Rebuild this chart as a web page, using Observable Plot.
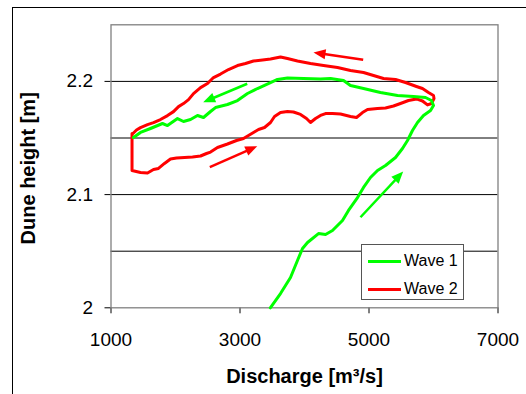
<!DOCTYPE html>
<html><head><meta charset="utf-8">
<script src="https://cdn.jsdelivr.net/npm/d3@7"></script>
<script src="https://cdn.jsdelivr.net/npm/@observablehq/plot@0.6"></script>
<style>
body{margin:0;background:#fff;}
#wrap{position:relative;width:526px;height:394px;overflow:hidden;font-family:Arial,"Liberation Sans",sans-serif;}
#outer{position:absolute;left:12px;top:7px;width:600px;height:500px;border-left:1px solid #000;border-top:1px solid #000;}
#chart{position:absolute;left:0;top:0;}
#legend{position:absolute;left:361px;top:244px;width:101px;height:54px;border:1px solid #555;background:#fff;font-size:16px;color:#000;}
.row{position:absolute;left:0;height:20px;width:100px;}
.sw{position:absolute;left:6px;top:9px;width:33px;height:3px;}
.lab{position:absolute;left:42px;top:0;line-height:20px;white-space:nowrap;}
</style>
</head><body>
<div id="wrap"><div id="outer"></div><div id="chart"></div><div id="legend"></div></div>
<script>
// ---- data (discharge m3/s, dune height m) ----
const wave1Q = [3470,3628,3783,3891,3969,4047,4217,4326,4434,4589,4682,4822,4915,5023,5132,5256,5411,5519,5597,5674,5752,5845,5954,6000,5969,5876,5690,5442,5178,4915,4713,4605,4403,4248,3985,3736,3581,3473,3271,3116,2961,2806,2620,2543,2434,2341,2233,2124,2031,1876,1798,1612,1457,1349];
const wave1H = [2.000,2.0126,2.0268,2.0418,2.0524,2.0577,2.0656,2.0647,2.0683,2.0771,2.0860,2.0974,2.1063,2.1151,2.1213,2.1257,2.1328,2.1407,2.1478,2.1566,2.1637,2.1699,2.1743,2.1787,2.1831,2.1858,2.1866,2.1875,2.1902,2.1937,2.1964,2.2008,2.2026,2.2021,2.2026,2.2030,2.2017,2.1990,2.1937,2.1893,2.1831,2.1796,2.1769,2.1734,2.1681,2.1699,2.1663,2.1646,2.1672,2.1610,2.1628,2.1584,2.1549,2.1504];
const wave2Q = [1326,1326,1326,1457,1566,1659,1736,1829,1922,2016,2140,2264,2388,2481,2543,2651,2806,2946,3054,3209,3287,3380,3473,3535,3628,3736,3829,3938,4031,4093,4171,4248,4326,4434,4558,4713,4806,4899,4977,5132,5256,5380,5488,5612,5736,5829,5907,5969,6008,6000,5922,5829,5736,5566,5411,5225,5070,4915,4713,4512,4295,4093,3891,3736,3628,3550,3473,3349,3209,3085,2961,2822,2698,2589,2496,2388,2279,2202,2124,2047,1969,1876,1767,1659,1566,1457,1395,1341];
const wave2H = [2.1540,2.1390,2.1213,2.1195,2.1191,2.1222,2.1231,2.1275,2.1314,2.1323,2.1328,2.1332,2.1341,2.1363,2.1376,2.1416,2.1447,2.1478,2.1496,2.1549,2.1575,2.1593,2.1637,2.1690,2.1725,2.1734,2.1730,2.1708,2.1672,2.1637,2.1672,2.1699,2.1716,2.1716,2.1712,2.1690,2.1681,2.1725,2.1752,2.1761,2.1765,2.1783,2.1805,2.1831,2.1845,2.1827,2.1792,2.1805,2.1849,2.1875,2.1902,2.1937,2.1955,2.1990,2.2017,2.2026,2.2052,2.2079,2.2096,2.2123,2.2140,2.2158,2.2180,2.2202,2.2216,2.2207,2.2198,2.2189,2.2180,2.2158,2.2140,2.2105,2.2065,2.2034,2.1981,2.1945,2.1892,2.1839,2.1804,2.1777,2.1733,2.1698,2.1663,2.1636,2.1618,2.1592,2.1571,2.1540];
// direction arrows (tail -> head)
const arrowQ1 = [4910,3112,2532,4868];
const arrowH1 = [2.2191,2.1979,2.1242,2.0800];
const arrowQ2 = [4140,2429,3267,5530];
const arrowH2 = [2.2255,2.1816,2.1428,2.1204];
const arrowSeries = ["Wave 2","Wave 1","Wave 2","Wave 1"];
const seriesNames = ["Wave 1","Wave 2"];
const seriesColors = ["#00ff00","#ff0000"];
const xTicks = [1000,3000,5000,7000];
const yTicks = [2,2.1,2.2];
const gridLevels = [2.05,2.1,2.15,2.2];
const xTitle = "Discharge [m³/s]";
const yTitle = "Dune height [m]";

const wave1 = wave1Q.map((q,i)=>({q, h: wave1H[i]}));
const wave2 = wave2Q.map((q,i)=>({q, h: wave2H[i]}));
const arrows = arrowQ1.map((q,i)=>({x1:q, y1:arrowH1[i], x2:arrowQ2[i], y2:arrowH2[i], c: seriesColors[seriesNames.indexOf(arrowSeries[i])]}));

// filled arrowhead symbol, tip at the origin pointing up
const headSymbol = {draw(ctx) { ctx.moveTo(0, 0); ctx.lineTo(-5, 12); ctx.lineTo(5, 12); ctx.closePath(); }};

function build(extra) {
  return Plot.plot({
    width: 526, height: 394,
    marginLeft: 110.5, marginRight: 28.5, marginTop: 24.3, marginBottom: 86.7,
    style: {fontFamily: "Arial, 'Liberation Sans', sans-serif", fontSize: "19px", background: "transparent", overflow: "visible", color: "#000"},
    x: {domain: [1000, 7000], ticks: xTicks, tickFormat: d3.format("d"), tickSize: 6, tickPadding: 19, label: null},
    y: {domain: [2, 2.25], ticks: yTicks, tickFormat: d => String(d), tickSize: 6, tickPadding: 12, label: null},
    marks: [
      Plot.ruleY(gridLevels, {stroke: "#000", strokeWidth: 1}),
      Plot.frame({stroke: "#808080", strokeWidth: 1.3}),
      Plot.line(wave2, {x: "q", y: "h", stroke: seriesColors[1], strokeWidth: 3}),
      Plot.line(wave1, {x: "q", y: "h", stroke: seriesColors[0], strokeWidth: 3}),
      Plot.text([xTitle], {frameAnchor: "bottom", lineAnchor: "middle", textAnchor: "middle", dy: 69, fontWeight: "bold", fontSize: 20}),
      Plot.text([yTitle], {frameAnchor: "left", textAnchor: "middle", lineAnchor: "middle", dx: -82.5, dy: 2, rotate: -90, fontWeight: "bold", fontSize: 20}),
      ...extra
    ]
  });
}

// first pass to obtain the scales, then arrows with filled heads
const first = build([]);
const sx = first.scale("x"), sy = first.scale("y");
const heads = arrows.map(a => {
  const px1 = sx.apply(a.x1), py1 = sy.apply(a.y1), px2 = sx.apply(a.x2), py2 = sy.apply(a.y2);
  const dx = px2 - px1, dy = py2 - py1, len = Math.hypot(dx, dy);
  const ex = px2 - dx / len * 9, ey = py2 - dy / len * 9;
  return {...a, sx2: sx.invert(ex), sy2: sy.invert(ey), angle: Math.atan2(dx, -dy) * 180 / Math.PI};
});
const chart = build([
  Plot.link(heads, {x1: "x1", y1: "y1", x2: "sx2", y2: "sy2", stroke: "c", strokeWidth: 2.5}),
  Plot.dot(heads, {x: "x2", y: "y2", symbol: headSymbol, rotate: "angle", fill: "c", stroke: "none", r: 5})
]);
document.getElementById("chart").appendChild(chart);

const leg = document.getElementById("legend");
seriesNames.forEach((name, i) => {
  const row = document.createElement("div");
  row.className = "row";
  row.style.top = (6 + i * 28) + "px";
  const sw = document.createElement("div");
  sw.className = "sw"; sw.style.background = seriesColors[i];
  const lab = document.createElement("div");
  lab.className = "lab"; lab.textContent = name;
  row.appendChild(sw); row.appendChild(lab);
  leg.appendChild(row);
});
</script>
</body></html>
